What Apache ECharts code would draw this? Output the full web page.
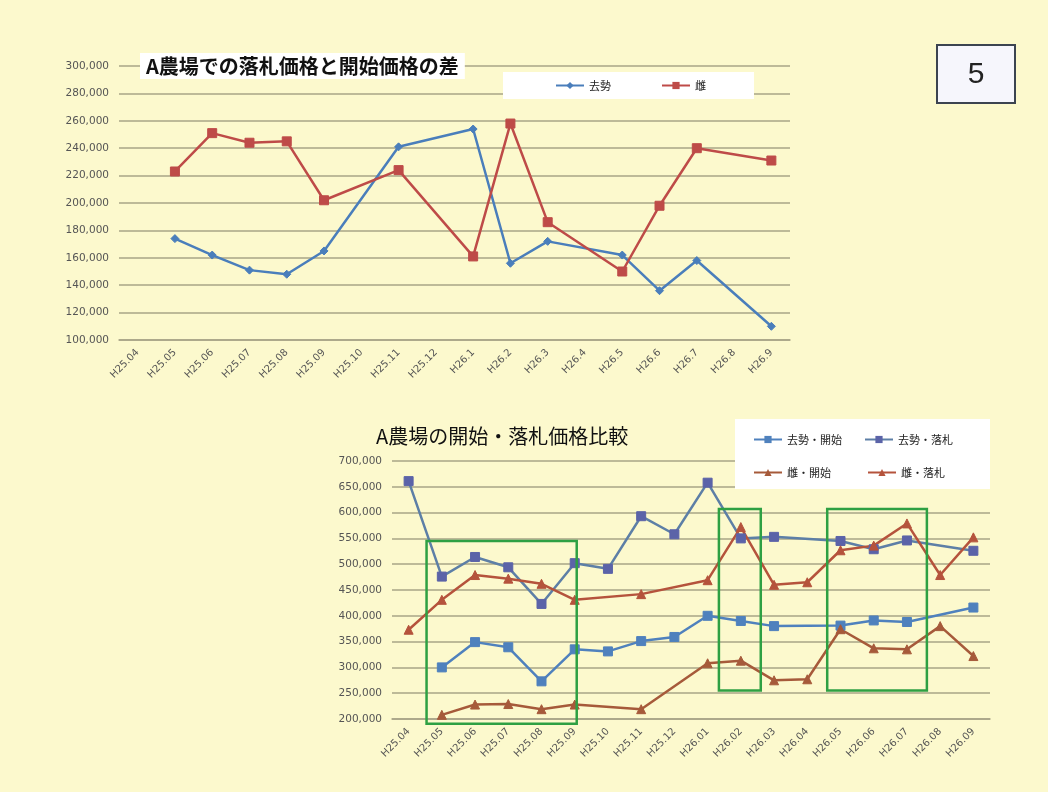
<!DOCTYPE html>
<html><head><meta charset="utf-8">
<script src="https://cdn.jsdelivr.net/npm/echarts@6/dist/echarts.min.js"></script>
<style>html,body{margin:0;padding:0;background:#fcf9cd;}#c{width:1048px;height:792px;}</style>
</head><body><div id="c"></div>
<script>
// ---- data: top chart (difference between winning bid and starting price) ----
const catsTop = ['H25.04','H25.05','H25.06','H25.07','H25.08','H25.09','H25.10','H25.11','H25.12','H26.1','H26.2','H26.3','H26.4','H26.5','H26.6','H26.7','H26.8','H26.9'];
const diffSteer  = [null,174000,162000,151000,148000,165000,null,241000,null,254000,156000,172000,null,162000,136000,158000,null,110000];
const diffFemale = [null,223000,251000,244000,245000,202000,null,224000,null,161000,258000,186000,null,150000,198000,240000,null,231000];

// ---- data: bottom chart (start vs winning price) ----
const catsBottom = ['H25.04','H25.05','H25.06','H25.07','H25.08','H25.09','H25.10','H25.11','H25.12','H26.01','H26.02','H26.03','H26.04','H26.05','H26.06','H26.07','H26.08','H26.09'];
const steerStart  = [null,300000,349000,339000,273000,335000,331000,351000,359000,400000,390000,380000,null,381000,391000,388000,null,416000];
const steerWin    = [661000,476000,514000,494000,423000,502000,491000,593000,558000,658000,550000,553000,null,545000,529000,546000,null,526000];
const femaleStart = [null,208000,228000,229000,219000,228000,null,219000,null,308000,313000,275000,277000,374000,337000,335000,380000,322000];
const femaleWin   = [373000,431000,479000,472000,462000,431000,null,442000,null,469000,572000,460000,465000,527000,536000,579000,479000,552000];

// highlight boxes on bottom chart: [fromIndex, toIndex, yLow, yHigh]
const highlightBoxes = [[0.54,5.06,191000,545000],[9.34,10.6,255000,607000],[12.6,15.6,255000,607000]];

const pageNumber = '5';

const chart = echarts.init(document.getElementById('c'), null, {renderer:'canvas'});
const gridLine = '#a8a486';
const fmt = v => v.toLocaleString('en-US');
const axisLabelY = {formatter: fmt, fontSize: 10.5, color:'#555', fontFamily:'DejaVu Sans', margin: 10};
const axisLabelX = {rotate:45, fontSize: 10, color:'#555', fontFamily:'DejaVu Sans', interval:0, margin: 11};
const jp = '"Noto Sans CJK JP", sans-serif';

function lineSeries(name, data, color, symbol, size, xi, lineColor){
  return {name, type:'line', data, xAxisIndex:xi, yAxisIndex:xi, connectNulls:true,
    symbol, symbolSize:size, showSymbol:true,
    lineStyle:{color: lineColor||color, width:2.5},
    itemStyle:{color, borderColor:color},
    emphasis:{disabled:true}, animation:false, z:3};
}

chart.setOption({
  backgroundColor:'#fcf9cd',
  animation:false,
  title:[
    {text:'A農場での落札価格と開始価格の差', left:140, top:53, backgroundColor:'#ffffff', padding:[3,6],
     textStyle:{fontFamily:jp, fontSize:20, fontWeight:'bold', color:'#111'}},
    {text:'A農場の開始・落札価格比較', left:372, top:423, padding:[3,4],
     textStyle:{fontFamily:jp, fontSize:20, fontWeight:'normal', color:'#111'}}
  ],
  legend:[
    {data:['去勢','雌'], left:503, top:72, backgroundColor:'#ffffff', padding:[8,48,8,52], itemGap:50,
     itemWidth:28, itemHeight:9, textStyle:{fontFamily:jp, fontSize:11, color:'#222'}, z:20},
    {data:['去勢・開始','去勢・落札'], left:748, top:429, itemGap:22, itemWidth:28, itemHeight:9,
     textStyle:{fontFamily:jp, fontSize:11, color:'#222'}, z:20},
    {data:['雌・開始','雌・落札'], left:748, top:462, itemGap:36, itemWidth:28, itemHeight:9,
     textStyle:{fontFamily:jp, fontSize:11, color:'#222'}, z:20}
  ],
  grid:[
    {left:119, top:66, width:671, height:274},
    {left:392, top:461, width:598, height:258}
  ],
  xAxis:[
    {type:'category', gridIndex:0, data:catsTop, boundaryGap:true,
     axisLine:{lineStyle:{color:gridLine, width:1.5}}, axisTick:{show:false}, axisLabel:axisLabelX},
    {type:'category', gridIndex:1, data:catsBottom, boundaryGap:true,
     axisLine:{lineStyle:{color:gridLine, width:1.5}}, axisTick:{show:false}, axisLabel:axisLabelX}
  ],
  yAxis:[
    {type:'value', gridIndex:0, min:100000, max:300000, interval:20000,
     axisLine:{show:false}, axisTick:{show:false}, axisLabel:axisLabelY,
     splitLine:{lineStyle:{color:gridLine, width:1.5}}},
    {type:'value', gridIndex:1, min:200000, max:700000, interval:50000,
     axisLine:{show:false}, axisTick:{show:false}, axisLabel:axisLabelY,
     splitLine:{lineStyle:{color:gridLine, width:1.5}}}
  ],
  series:[
    lineSeries('去勢', diffSteer, '#4a7ebb', 'diamond', 8, 0),
    lineSeries('雌', diffFemale, '#be4b48', 'rect', 9, 0),
    lineSeries('去勢・開始', steerStart, '#4f81bd', 'rect', 9, 1),
    lineSeries('去勢・落札', steerWin, '#5b63a8', 'rect', 9, 1, '#5d7fa6'),
    lineSeries('雌・開始', femaleStart, '#a65a3a', 'triangle', 9, 1),
    lineSeries('雌・落札', femaleWin, '#b5533c', 'triangle', 9, 1)
  ]
});

// pixel helpers for annotations
const x0 = chart.convertToPixel({gridIndex:1}, [0, 200000]);
const x1 = chart.convertToPixel({gridIndex:1}, [1, 200000]);
const step = x1[0] - x0[0];
const yPix = v => chart.convertToPixel({gridIndex:1}, [0, v])[1];

const graphics = [];
// legend box of bottom chart (white panel)
graphics.push({type:'rect', shape:{x:735, y:419, width:255, height:70}, style:{fill:'#ffffff'}, z:15});
highlightBoxes.forEach(b => {
  const xa = x0[0] + b[0]*step, xb = x0[0] + b[1]*step;
  const ya = yPix(b[3]), yb = yPix(b[2]);
  graphics.push({type:'rect', shape:{x:xa, y:ya, width:xb-xa, height:yb-ya},
    style:{fill:null, stroke:'#2ea043', lineWidth:2.5}, z:12});
});
// page number box
graphics.push({type:'rect', shape:{x:937, y:45, width:78, height:58},
  style:{fill:'#f6f6fc', stroke:'#3c4450', lineWidth:2}, z:15});
graphics.push({type:'text', x:976, y:75, style:{text:pageNumber, fontSize:30, fontFamily:'Liberation Sans',
  fill:'#222', align:'center', verticalAlign:'middle'}, z:16});

chart.setOption({graphic: graphics});
</script>
</body></html>
